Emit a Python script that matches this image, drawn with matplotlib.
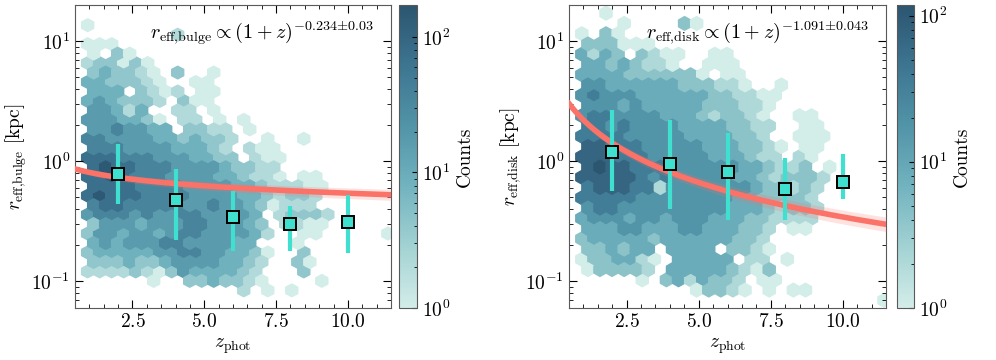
import numpy as np
import matplotlib
matplotlib.use("Agg")
import matplotlib.pyplot as plt
from matplotlib.colors import LogNorm, LinearSegmentedColormap
from matplotlib.ticker import MultipleLocator

plt.rcParams['font.family'] = 'cmr10'
plt.rcParams['mathtext.fontset'] = 'cm'
plt.rcParams['axes.formatter.use_mathtext'] = True

# hexbin cells, top row first.
# even rows sit on the main lattice (26 columns), odd rows on the offset one (25).
# '.' = empty, '1'..'8' = colour level (roughly doubling per level)
bulge_rows = [
    "1.........................",
    ".......2.................",
    "111.......................",
    "1.31.....................",
    "233131....................",
    "343321.3..1..............",
    "4433321..11...............",
    "444.3212.11..............",
    "4543332.311...............",
    "55424..22.1..............",
    "5554431.22.1.1............",
    "5565544.3322.1...........",
    "6655554434332..1..1.......",
    "666555544432.211.........",
    "7776665554433.211.........",
    "7877666555543322.........",
    "77876665555443221.11......",
    "77776666555544322211.....",
    "78777666655554432332......",
    "6776666655655431222......",
    "566656556655554.23332.....",
    "355545556655543.2211.....",
    "3554554566555542..11.....1",
    "45455566555544...1.......",
    "3444445566554431..3.......",
    "333433455554432..31......",
    "222232135444432...3.......",
    ".....1..3343321....1.....",
    ".............2.1.1........",
]
disk_rows = [
    "..1.......................",
    "...1....31...............",
    "1.31......................",
    "333111...................",
    "4243.3211..11.............",
    "44343221..111............",
    "44443333331.11............",
    "55444444333221..1........",
    "56555444444332211.........",
    "5554544444333221.........",
    "5665555444323321..11......",
    "6656555544443322..11.....",
    "6666555554444332..111.....",
    "77666555554443321.11.....",
    "77766655555444322.21......",
    "7877666555555443223.1....",
    "777776565555544323332.....",
    "67776625555555433232.....",
    "66666555555554433332......",
    "56655555555544432332.....",
    "45554554555444332222......",
    "4445544455444332.11......",
    "3444443444444332..........",
    "334344.4444.3321.........",
    "1334421.44444.22.1........",
    "133332.444443213.........",
    ".....1.3424332.11.........",
    ".........13321.1.11......",
    ".........................1",
]

# grid extents (z range, log10 r range) of the hexbin
bulge_extent = (0.94, 11.39, -1.075, 1.133)
disk_extent = (0.945, 11.43, -1.158, 1.233)
bulge_vmax = 172
disk_vmax = 118

# binned medians
z_bins = [2, 4, 6, 8, 10]
bulge_med = [0.79, 0.48, 0.343, 0.30, 0.31]
bulge_lo = [0.443, 0.222, 0.179, 0.179, 0.172]
bulge_hi = [1.40, 0.87, 0.57, 0.425, 0.52]
disk_med = [1.19, 0.957, 0.81, 0.587, 0.673]
disk_lo = [0.566, 0.404, 0.327, 0.327, 0.482]
disk_hi = [2.66, 2.22, 1.73, 1.06, 1.16]

# power-law fits r = A (1+z)^-a
bulge_fit = (0.95, 0.234, 0.03)
disk_fit = (4.70, 1.091, 0.043)

cmap = LinearSegmentedColormap.from_list(
    "teal", ["#d3ede9", "#a3d2d3", "#72b3bf", "#5294a8", "#3d7591", "#2c5570"])

NX = 25


def cells(rows, extent):
    x0, x1, y0, y1 = extent
    ny = (len(rows) - 1) // 2
    sx = (x1 - x0) / NX
    sy = (y1 - y0) / ny
    xs, ys, cs = [], [], []
    for n, row in enumerate(rows):
        k = len(rows) - 1 - n
        off = 0.5 if k % 2 else 0.0
        for i, ch in enumerate(row):
            if ch != '.':
                xs.append(x0 + (i + off) * sx)
                ys.append(10 ** (y0 + k * sy / 2))
                cs.append(10 ** ((int(ch) - 1) * 0.31))
    return np.array(xs), np.array(ys), np.array(cs), ny


def panel(ax, cax, rows, extent, vmax, med, lo, hi, fit, name):
    xs, ys, cs, ny = cells(rows, extent)
    hb = ax.hexbin(xs, ys, C=cs, reduce_C_function=np.sum, gridsize=(NX, ny),
                   extent=extent, yscale='log', cmap=cmap,
                   norm=LogNorm(vmin=1, vmax=vmax))
    zz = np.linspace(0.5, 11.5, 200)
    A, a, da = fit
    ax.fill_between(zz, A * (1 + zz) ** (-(a + da)) * 0.97, A * (1 + zz) ** (-(a - da)) * 1.03,
                    color='#fa7268', alpha=0.2, lw=0, zorder=3)
    ax.plot(zz, A * (1 + zz) ** (-a), color='#fa7268', lw=4, zorder=4)
    med = np.array(med)
    yerr = [med - np.array(lo), np.array(hi) - med]
    ax.errorbar(z_bins, med, yerr=yerr, fmt='s', color='#40e0d0', ecolor='#40e0d0',
                elinewidth=3, ms=8, mec='k', mew=1.4, capsize=0, zorder=5)
    ax.set_xlim(0.5, 11.5)
    ax.set_ylim(0.06, 20)
    ax.xaxis.set_major_locator(MultipleLocator(2.5))
    ax.xaxis.set_minor_locator(MultipleLocator(0.5))
    ax.tick_params(which='both', direction='in', top=True, right=True, labelsize=14)
    ax.tick_params(which='major', length=6)
    ax.tick_params(which='minor', length=3)
    for s in ax.spines.values():
        s.set_color('0.35')
    ax.set_xlabel(r'$z_{\rm phot}$', fontsize=14)
    ax.set_ylabel(r'$r_{\rm eff{,}%s}$ [kpc]' % name, fontsize=14, labelpad=2)
    ax.text(0.945, 0.905, r'$r_{\rm eff{,}%s} \propto (1+z)^{-%s{\pm}%s}$' % (name, a, da),
            transform=ax.transAxes, ha='right', va='center', fontsize=14.5, zorder=6)
    cb = plt.colorbar(hb, cax=cax)
    cb.set_label('Counts', fontsize=14)
    cb.outline.set_edgecolor('0.35')
    cax.tick_params(which='both', direction='in', labelsize=14)
    return hb


fig = plt.figure(figsize=(9.96, 3.6), dpi=100)
ax1 = fig.add_axes([0.0753, 0.1444, 0.3173, 0.8417])
cax1 = fig.add_axes([0.4006, 0.1444, 0.0181, 0.8417])
ax2 = fig.add_axes([0.5713, 0.1444, 0.3183, 0.8417])
cax2 = fig.add_axes([0.9006, 0.1444, 0.0171, 0.8417])

panel(ax1, cax1, bulge_rows, bulge_extent, bulge_vmax, bulge_med, bulge_lo, bulge_hi, bulge_fit, 'bulge')
panel(ax2, cax2, disk_rows, disk_extent, disk_vmax, disk_med, disk_lo, disk_hi, disk_fit, 'disk')

fig.savefig('out.png', dpi=100)
